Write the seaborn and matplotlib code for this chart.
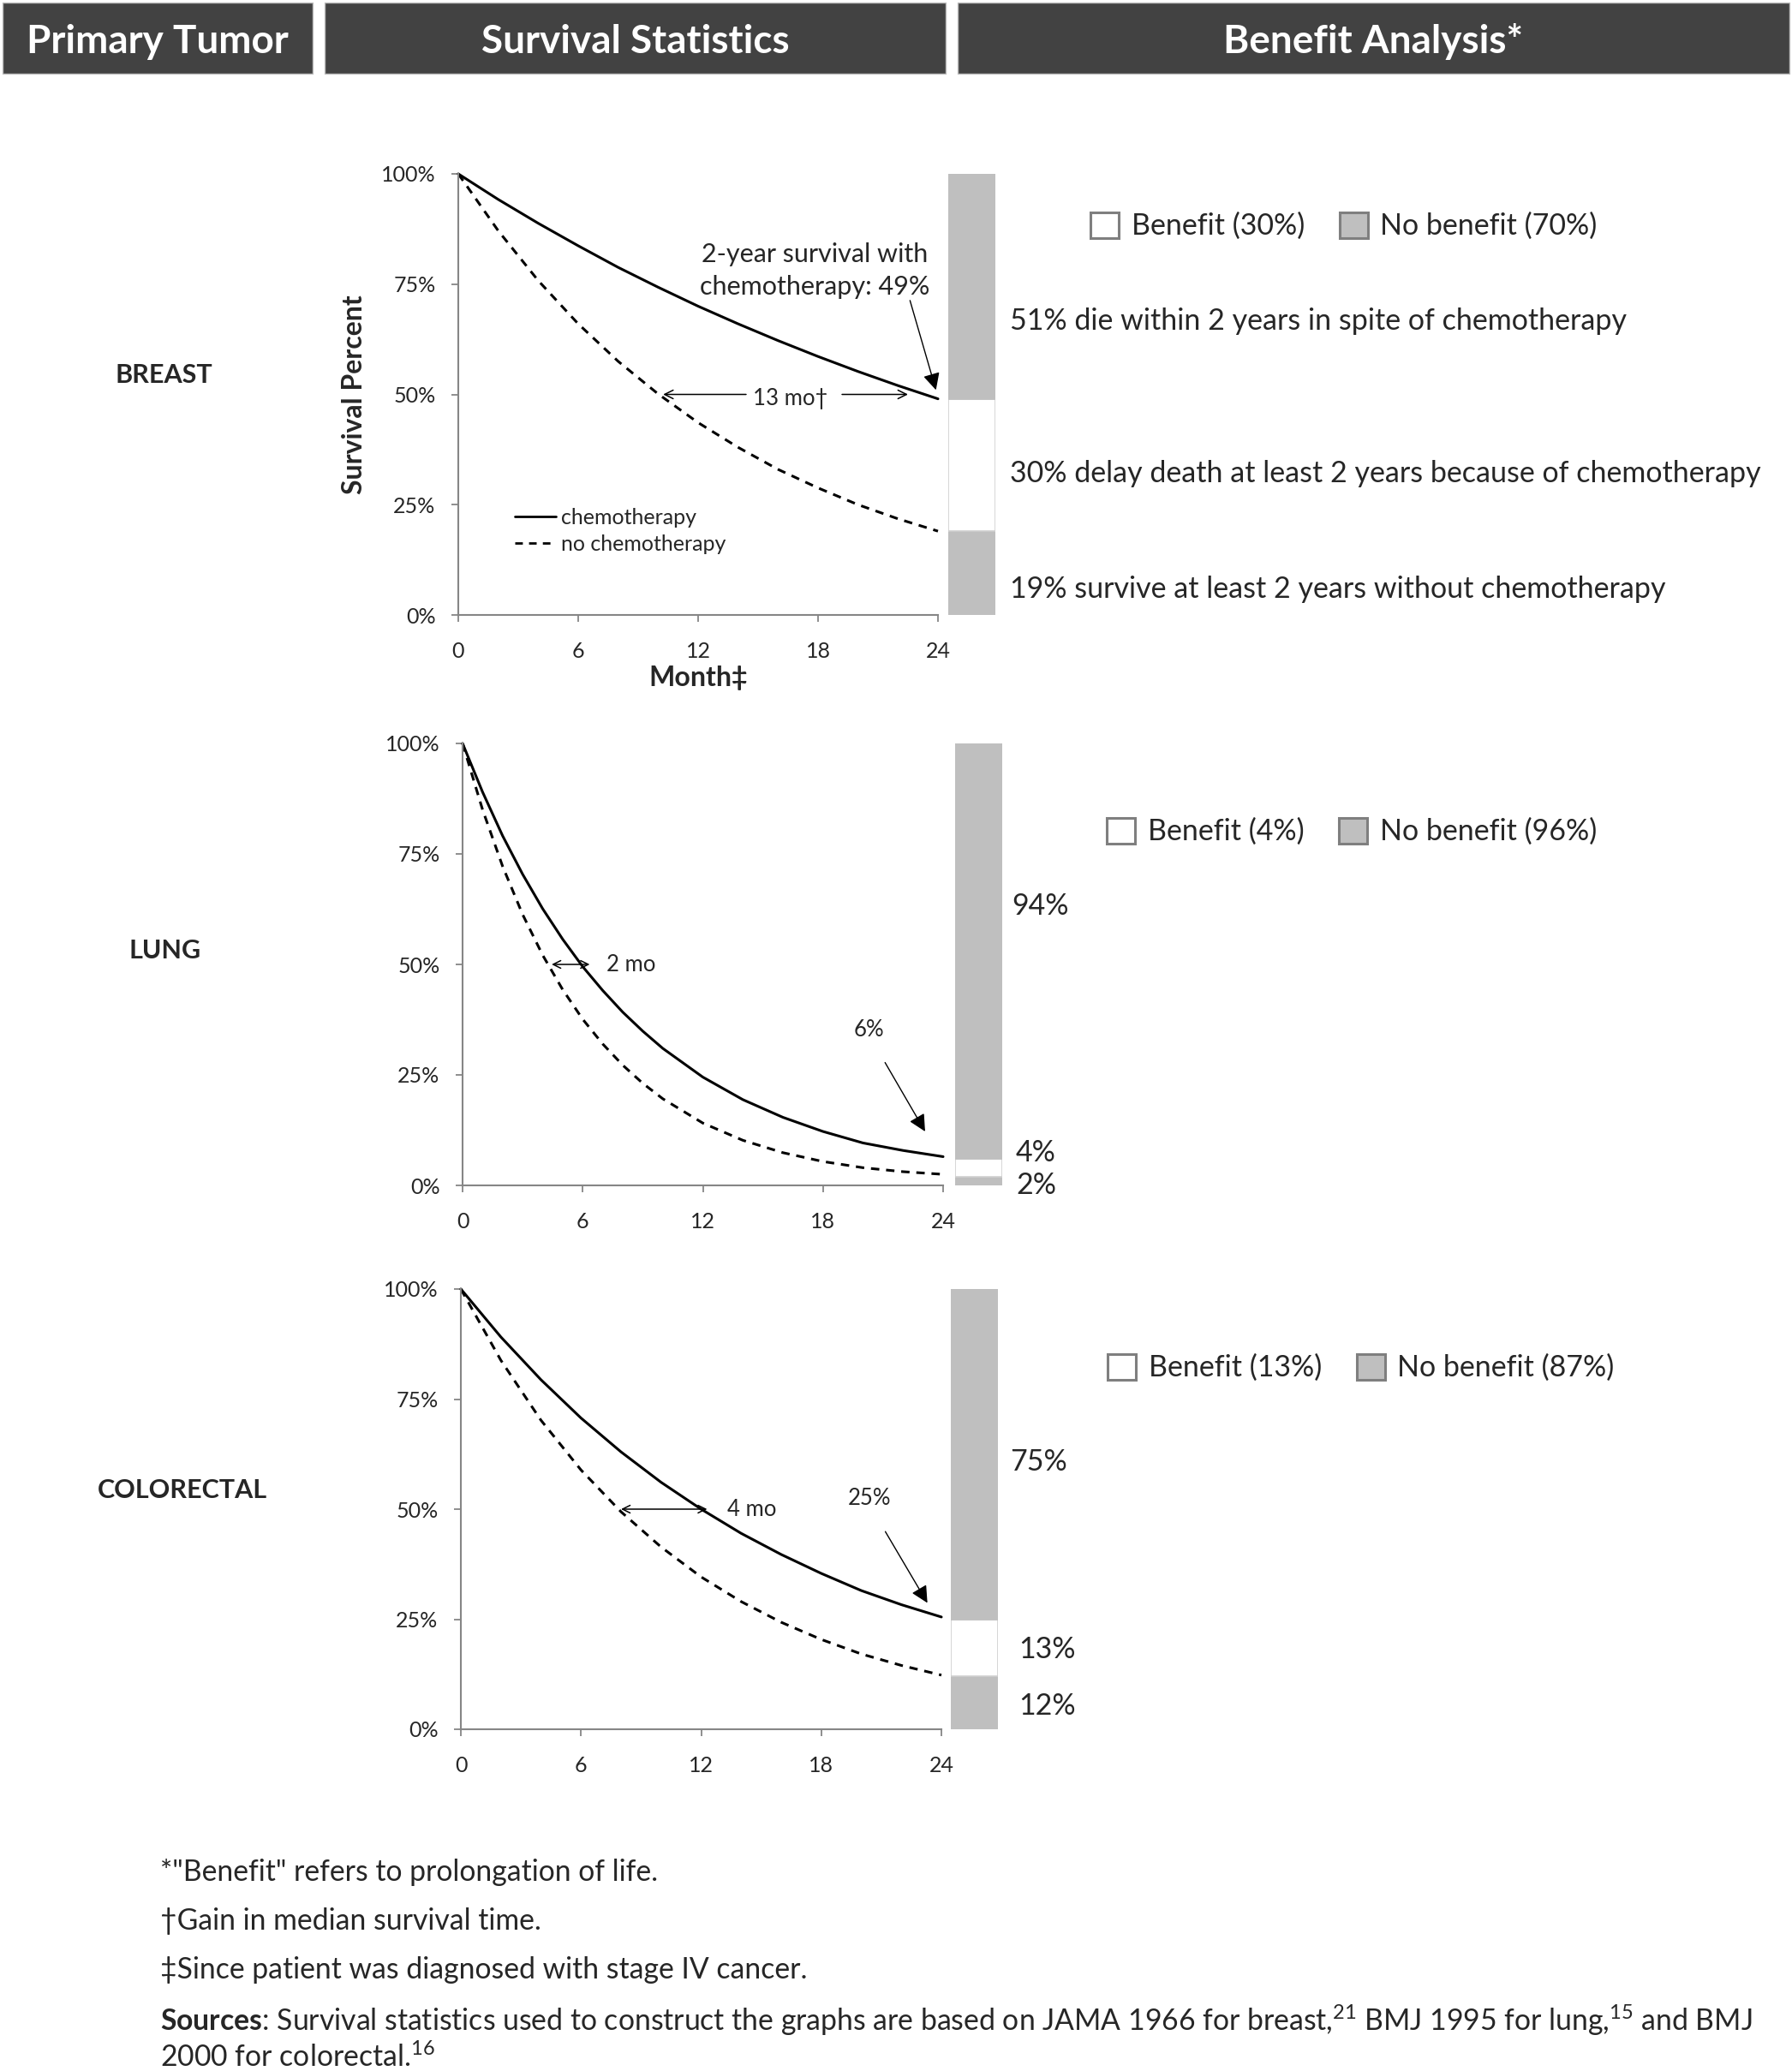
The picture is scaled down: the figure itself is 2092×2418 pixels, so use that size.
import numpy as np
import pandas as pd
import matplotlib
matplotlib.use("Agg")
import matplotlib.pyplot as plt
import seaborn as sns
from matplotlib.patches import Rectangle, Patch

sns.set_theme(style="white")
plt.rcParams["font.family"] = ["Lato", "DejaVu Sans"]
plt.rcParams["mathtext.fontset"] = "custom"
plt.rcParams["mathtext.rm"] = "Lato"
plt.rcParams["mathtext.bf"] = "Lato:bold"

# ── data ────────────────────────────────────────────────────────────────────
HEADERS = ["Primary Tumor", "Survival Statistics", "Benefit Analysis*"]
TUMORS = ["BREAST", "LUNG", "COLORECTAL"]
ARMS = ["chemotherapy", "no chemotherapy"]

BREAST_MONTHS = [0, 2, 4, 6, 8, 10, 12, 14, 16, 18, 20, 22, 24]
BREAST_CHEMO = [100, 94.2, 88.8, 83.7, 78.8, 74.3, 70.0, 66.0, 62.2, 58.6, 55.2, 52.0, 49.0]
BREAST_NOCHEMO = [100, 87.1, 75.8, 66.0, 57.5, 50.1, 43.6, 38.0, 33.0, 28.8, 25.0, 21.8, 19.0]

LUNG_MONTHS = [0, 1, 2, 3, 4, 5, 6, 7, 8, 9, 10, 12, 14, 16, 18, 20, 22, 24]
LUNG_CHEMO = [100, 89.0, 79.1, 70.4, 62.6, 55.7, 49.5, 44.1, 39.2, 34.9, 31.0, 24.5, 19.4, 15.4, 12.2, 9.6, 7.9, 6.5]
LUNG_NOCHEMO = [100, 85.0, 72.2, 61.3, 52.1, 44.3, 37.6, 32.0, 27.2, 23.1, 19.6, 14.1, 10.2, 7.4, 5.4, 4.0, 3.1, 2.5]

CRC_MONTHS = [0, 2, 4, 6, 8, 10, 12, 14, 16, 18, 20, 22, 24]
CRC_CHEMO = [100, 89.1, 79.4, 70.7, 63.0, 56.1, 50.0, 44.5, 39.7, 35.4, 31.5, 28.3, 25.5]
CRC_NOCHEMO = [100, 83.8, 70.2, 58.9, 49.4, 41.4, 34.6, 29.0, 24.3, 20.4, 17.1, 14.5, 12.3]

# stacked bar: survive w/o chemo, benefit, die anyway
BREAST_BAR = [19, 30, 51]
LUNG_BAR = [2, 4, 94]
CRC_BAR = [12, 13, 75]

BENEFIT = [30, 4, 13]
NO_BENEFIT = [70, 96, 87]

BREAST_NOTES = ["51% die within 2 years in spite of chemotherapy",
                "30% delay death at least 2 years because of chemotherapy",
                "19% survive at least 2 years without chemotherapy"]
LUNG_NOTES = ["94%", "4%", "2%"]
CRC_NOTES = ["75%", "13%", "12%"]

FOOTNOTES = ['*"Benefit" refers to prolongation of life.',
             "\u2020Gain in median survival time.",
             "\u2021Since patient was diagnosed with stage IV cancer.",
             r"$\mathbf{Sources}$: Survival statistics used to construct the graphs are based on JAMA 1966 for breast,$^{21}$ BMJ 1995 for lung,$^{15}$ and BMJ",
             r"2000 for colorectal.$^{16}$"]

# ── layout ──────────────────────────────────────────────────────────────────
W, H = 2092, 2418
HEADER_BG = "#424242"
BAR_GREY = "#BFBFBF"
AXIS_GREY = "#868686"
TICK_FS = 18
NOTE_FS = 24.5

fig = plt.figure(figsize=(W / 100, H / 100), dpi=100)


def rect(x0, y0, x1, y1):
    return [x0 / W, 1 - y1 / H, (x1 - x0) / W, (y1 - y0) / H]


def ftext(x, y, s, **kw):
    fig.text(x / W, 1 - y / H, s, **kw)


# header bars
for (x0, x1), label in zip([(3, 365), (379, 1104), (1118, 2089)], HEADERS):
    fig.patches.append(Rectangle((x0 / W, 1 - 86 / H), (x1 - x0) / W, 83 / H,
                                 transform=fig.transFigure, facecolor=HEADER_BG,
                                 edgecolor="#bdbdbd", lw=1))
    ftext((x0 + x1) / 2, 49, label, ha="center", va="center", color="white",
          fontsize=33, fontweight="bold")

# row labels
for (x, y), name in zip([(191, 438), (193, 1110), (213, 1740)], TUMORS):
    ftext(x, y, name, ha="center", va="center", fontsize=22, fontweight="bold")


def survival_panel(box, months, chemo, nochemo, legend=False):
    ax = fig.add_axes(box)
    df = pd.DataFrame({"month": months * 2,
                       "survival": chemo + nochemo,
                       "arm": [ARMS[0]] * len(months) + [ARMS[1]] * len(months)})
    sns.lineplot(data=df, x="month", y="survival", style="arm", style_order=ARMS,
                 dashes={ARMS[0]: "", ARMS[1]: (3.2, 2.6)}, color="black",
                 lw=2.2, ax=ax, legend=legend, clip_on=False)
    ax.set_xlim(0, 24)
    ax.set_ylim(0, 100)
    ax.set_xticks([0, 6, 12, 18, 24])
    ax.set_yticks([0, 25, 50, 75, 100])
    ax.set_yticklabels([f"{v}%" for v in [0, 25, 50, 75, 100]])
    ax.set_xlabel("")
    ax.set_ylabel("")
    for side in ["top", "right"]:
        ax.spines[side].set_visible(False)
    for side in ["left", "bottom"]:
        ax.spines[side].set_color(AXIS_GREY)
        ax.spines[side].set_linewidth(1.5)
    ax.tick_params(axis="both", direction="out", length=6, width=1.3,
                   color=AXIS_GREY, labelsize=TICK_FS, left=True, bottom=True)
    ax.tick_params(axis="y", pad=13)
    ax.tick_params(axis="x", pad=16)
    ax.patch.set_alpha(0)
    return ax


def benefit_bar(box, segments):
    ax = fig.add_axes(box)
    bottom = 0
    for val, col in zip(segments, [BAR_GREY, "white", BAR_GREY]):
        ax.bar([0], [val], bottom=bottom, width=1.0, color=col,
               edgecolor="#cfcfcf" if col == "white" else BAR_GREY, lw=1.2)
        bottom += val
    ax.set_xlim(-0.5, 0.5)
    ax.set_ylim(0, 100)
    ax.axis("off")
    return ax


def benefit_legend(x, y, b, nb):
    handles = [Patch(facecolor="white", edgecolor="#7f7f7f", lw=2.2),
               Patch(facecolor=BAR_GREY, edgecolor="#7f7f7f", lw=2.2)]
    fig.legend(handles, [f"Benefit ({b}%)", f"No benefit ({nb}%)"],
               loc="center left", bbox_to_anchor=(x / W, 1 - y / H),
               ncol=2, frameon=False, fontsize=NOTE_FS, handlelength=0.98,
               handleheight=0.98, handletextpad=0.42, columnspacing=1.2,
               borderpad=0, borderaxespad=0)


arrow_open = dict(arrowstyle="->", color="black", lw=1.1, shrinkA=0, shrinkB=0,
                  mutation_scale=18)
arrow_both = dict(arrowstyle="<->", color="black", lw=1.1, shrinkA=0, shrinkB=0,
                  mutation_scale=16)
arrow_fill = dict(arrowstyle="-|>", color="black", lw=1.0, shrinkA=0, shrinkB=0,
                  mutation_scale=30)

# ── breast ──────────────────────────────────────────────────────────────────
ax1 = survival_panel(rect(535, 203, 1095, 718), BREAST_MONTHS, BREAST_CHEMO,
                     BREAST_NOCHEMO, legend=True)
leg = ax1.legend(loc="upper left", bbox_to_anchor=(0.10, 0.262), frameon=False,
                 fontsize=18, handlelength=1.9, handletextpad=0.25,
                 labelspacing=0.3, borderaxespad=0)
for ln in leg.get_lines():
    ln.set_linewidth(2.0)
ax1.set_ylabel("Survival Percent", fontsize=23, fontweight="bold", labelpad=12)
ax1.set_xlabel("Month\u2021", fontsize=23, fontweight="bold", labelpad=4)
ax1.text(17.85, 78.0, "2-year survival with\nchemotherapy: 49%", ha="center",
         va="center", fontsize=22, linespacing=1.45)
ax1.annotate("", xy=(23.9, 51.0), xytext=(22.6, 71.3), arrowprops=arrow_fill)
ax1.annotate("", xy=(10.25, 50), xytext=(14.4, 50), arrowprops=arrow_open)
ax1.annotate("", xy=(22.5, 50), xytext=(19.2, 50), arrowprops=arrow_open)
ax1.text(16.6, 49.0, "13 mo\u2020", ha="center", va="center", fontsize=18.5)
benefit_bar(rect(1107, 203, 1162, 718), BREAST_BAR)
benefit_legend(1273, 264, BENEFIT[0], NO_BENEFIT[0])
for y, s in zip([375, 553, 688], BREAST_NOTES):
    ftext(1179, y, s, ha="left", va="center", fontsize=NOTE_FS)

# ── lung ────────────────────────────────────────────────────────────────────
ax2 = survival_panel(rect(540, 868, 1101, 1384), LUNG_MONTHS, LUNG_CHEMO,
                     LUNG_NOCHEMO)
ax2.annotate("", xy=(4.45, 50), xytext=(6.35, 50), arrowprops=arrow_both)
ax2.text(7.2, 50, "2 mo", ha="left", va="center", fontsize=18.5)
ax2.text(20.3, 35.2, "6%", ha="center", va="center", fontsize=18.5)
ax2.annotate("", xy=(23.1, 12.2), xytext=(21.1, 27.8), arrowprops=arrow_fill)
benefit_bar(rect(1115, 868, 1170, 1384), LUNG_BAR)
benefit_legend(1292, 971, BENEFIT[1], NO_BENEFIT[1])
for (x, y), s in zip([(1181, 1058), (1186, 1346), (1186, 1384)], LUNG_NOTES):
    ftext(x, y, s, ha="left", va="center", fontsize=NOTE_FS)

# ── colorectal ──────────────────────────────────────────────────────────────
ax3 = survival_panel(rect(538, 1505, 1099, 2019), CRC_MONTHS, CRC_CHEMO,
                     CRC_NOCHEMO)
ax3.annotate("", xy=(8.0, 50), xytext=(12.3, 50), arrowprops=arrow_both)
ax3.text(13.3, 50, "4 mo", ha="left", va="center", fontsize=18.5)
ax3.text(20.4, 52.4, "25%", ha="center", va="center", fontsize=18.5)
ax3.annotate("", xy=(23.3, 28.7), xytext=(21.2, 44.9), arrowprops=arrow_fill)
benefit_bar(rect(1110, 1505, 1165, 2019), CRC_BAR)
benefit_legend(1293, 1597, BENEFIT[2], NO_BENEFIT[2])
for (x, y), s in zip([(1179, 1707), (1189, 1926), (1189, 1992)], CRC_NOTES):
    ftext(x, y, s, ha="left", va="center", fontsize=NOTE_FS)

# ── footnotes ───────────────────────────────────────────────────────────────
for y, s in zip([2186, 2243, 2300, 2359, 2402], FOOTNOTES):
    ftext(187, y, s, ha="left", va="center", fontsize=24.3)

fig.savefig("out.png", dpi=100, facecolor="white")
